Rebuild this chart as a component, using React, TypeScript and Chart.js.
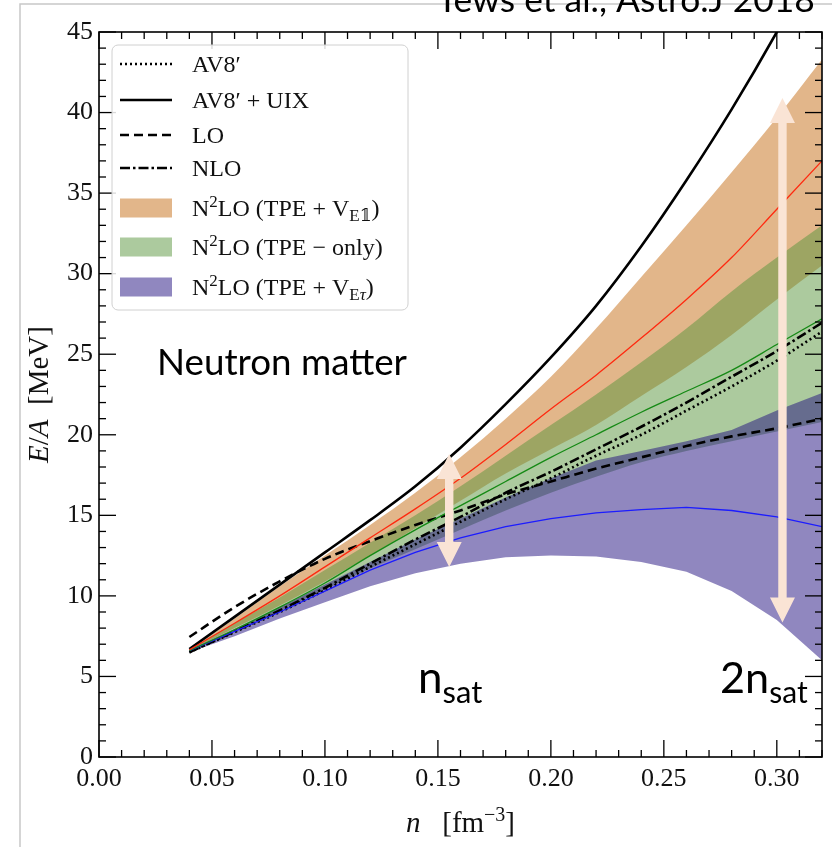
import React, { useEffect, useRef } from 'react';
import { Chart, registerables } from 'chart.js';
Chart.register(...registerables);

// ---- data ----
const nVals = [0.04, 0.06, 0.08, 0.10, 0.12, 0.14, 0.16, 0.18, 0.20, 0.22, 0.24, 0.26, 0.28, 0.30, 0.32];
const av8uix = [6.7, 8.7, 10.7, 12.7, 14.7, 16.8, 19.2, 21.9, 24.8, 28.0, 31.7, 35.8, 40.2, 45.0, 50.2];
const av8 = [6.5, 7.75, 9.0, 10.35, 11.8, 13.2, 14.6, 16.0, 17.3, 18.7, 20.0, 21.5, 23.0, 24.6, 26.4];
const lo = [7.45, 9.3, 10.9, 12.3, 13.4, 14.4, 15.3, 16.3, 17.1, 17.9, 18.6, 19.3, 19.9, 20.4, 21.0];
const nlo = [6.5, 7.8, 9.1, 10.5, 12.0, 13.5, 14.9, 16.4, 17.7, 19.1, 20.5, 22.0, 23.6, 25.2, 26.95];
const e1Center = [6.65, 8.3, 10.0, 11.8, 13.6, 15.4, 17.3, 19.4, 21.6, 23.7, 26.0, 28.4, 31.0, 34.0, 37.0];
const e1Upper = [6.7, 8.6, 10.6, 12.5, 14.4, 16.4, 18.6, 21.0, 23.6, 26.6, 29.8, 33.0, 36.3, 39.7, 43.3];
const e1Lower = [6.6, 8.0, 9.4, 10.9, 12.5, 14.2, 15.9, 17.6, 19.1, 20.6, 22.4, 24.2, 26.2, 28.4, 30.5];
const tpeCenter = [6.6, 7.9, 9.3, 10.8, 12.5, 14.1, 15.6, 17.1, 18.6, 20.0, 21.4, 22.7, 24.0, 25.6, 27.2];
const tpeUpper = [6.7, 8.3, 9.9, 11.6, 13.3, 15.0, 16.8, 18.7, 20.6, 22.5, 24.5, 26.6, 28.9, 31.0, 33.0];
const tpeLower = [6.55, 7.8, 9.1, 10.4, 11.7, 12.9, 14.1, 15.3, 16.4, 17.4, 18.3, 19.0, 19.6, 20.2, 20.8];
const etCenter = [6.6, 7.8, 9.0, 10.3, 11.6, 12.7, 13.6, 14.3, 14.8, 15.15, 15.35, 15.5, 15.3, 14.9, 14.3];
const etUpper = [6.65, 7.95, 9.3, 10.7, 12.1, 13.5, 14.8, 16.1, 17.3, 18.4, 19.0, 19.6, 20.3, 21.5, 22.6];
const etLower = [6.5, 7.5, 8.6, 9.6, 10.6, 11.4, 12.0, 12.4, 12.5, 12.45, 12.1, 11.5, 10.3, 8.5, 6.0];

const xTicks = [0, 0.05, 0.10, 0.15, 0.20, 0.25, 0.30];
const yTicks = [0, 5, 10, 15, 20, 25, 30, 35, 40, 45];
const xMinorStep = 0.01;
const yMinorStep = 1;

// annotation arrows (n, E from, E to)
const arrowN = [0.155, 0.3025];
const arrowTop = [18.8, 40.9];
const arrowBottom = [11.8, 8.35];

const legendLabels = ["AV8′", "AV8′ + UIX", "LO", "NLO", "N²LO (TPE + V_E𝟙)", "N²LO (TPE − only)", "N²LO (TPE + V_Eτ)"];

// ---- styles ----
const ORANGE = 'rgba(197,109,21,0.5)';
const GREEN = 'rgba(89,149,61,0.5)';
const PURPLE = 'rgba(33,15,127,0.5)';
const SERIF = '"Liberation Serif", "DejaVu Serif", serif';
const SANS = 'Lato, "Open Sans", sans-serif';

type Seg = { t: string; s?: 'sup' | 'sub'; it?: boolean };

function richWidth(ctx: CanvasRenderingContext2D, segs: Seg[], size: number, family: string) {
  let w = 0;
  for (const sg of segs) {
    ctx.font = `${sg.it ? 'italic ' : ''}${sg.s ? Math.round(size * 0.7) : size}px ${family}`;
    w += ctx.measureText(sg.t).width;
  }
  return w;
}
function drawRich(ctx: CanvasRenderingContext2D, segs: Seg[], x: number, y: number, size: number, family: string, align: 'left' | 'center') {
  const w = richWidth(ctx, segs, size, family);
  let cx = align === 'center' ? x - w / 2 : x;
  ctx.textAlign = 'left';
  ctx.textBaseline = 'alphabetic';
  for (const sg of segs) {
    ctx.font = `${sg.it ? 'italic ' : ''}${sg.s ? Math.round(size * 0.7) : size}px ${family}`;
    const dy = sg.s === 'sup' ? -size * 0.38 : sg.s === 'sub' ? size * 0.22 : 0;
    ctx.fillText(sg.t, cx, y + dy);
    cx += ctx.measureText(sg.t).width;
  }
}

function legendSegs(label: string): Seg[] {
  if (!label.startsWith('N²')) return [{ t: label }];
  const rest = label.slice(2);
  const segs: Seg[] = [{ t: 'N' }, { t: '2', s: 'sup' }];
  const m = rest.match(/^(.*V)_(E)(.*)\)$/);
  if (m) {
    segs.push({ t: m[1] });
    segs.push({ t: m[2], s: 'sub' });
    segs.push({ t: m[3], s: 'sub', it: m[3] === 'τ' });
    segs.push({ t: ')' });
  } else {
    segs.push({ t: rest });
  }
  return segs;
}

const pts = (arr: number[]) => nVals.map((x, i) => ({ x, y: arr[i] }));

export default function App() {
  const ref = useRef<HTMLCanvasElement>(null);
  useEffect(() => {
    const canvas = ref.current!;
    const lineStyles = [
      { data: av8, dash: [2, 3], w: 2.6 },
      { data: av8uix, dash: [], w: 2.6 },
      { data: lo, dash: [9, 5], w: 2.6 },
      { data: nlo, dash: [10, 3, 2.5, 3], w: 2.6 },
    ];
    const bandColors = [ORANGE, GREEN, PURPLE];

    const band = (data: number[], order: number, fillColor: string | null, smooth: boolean) => ({
      data: pts(data),
      borderColor: 'transparent',
      borderWidth: 0,
      backgroundColor: fillColor || 'transparent',
      fill: fillColor ? '+1' : false,
      pointRadius: 0,
      cubicInterpolationMode: smooth ? 'monotone' : 'default',
      tension: 0,
      order,
    });
    const line = (data: number[], color: string, w: number, dash: number[], smooth: boolean) => ({
      data: pts(data),
      borderColor: color,
      borderWidth: w,
      borderDash: dash,
      fill: false,
      pointRadius: 0,
      cubicInterpolationMode: smooth ? 'monotone' : 'default',
      tension: 0,
      order: 0,
    });

    const decor = {
      id: 'decor',
      afterDatasetsDraw(chart: any) {
        const { ctx, chartArea: a, scales } = chart;
        const x = scales.x, y = scales.y;
        ctx.save();
        // arrows
        ctx.fillStyle = '#fae4d5';
        for (let i = 0; i < arrowN.length; i++) {
          const px = x.getPixelForValue(arrowN[i]);
          const t = y.getPixelForValue(arrowTop[i]);
          const b = y.getPixelForValue(arrowBottom[i]);
          const hw = 12.5, hl = 25, sw = 4.2;
          ctx.beginPath();
          ctx.moveTo(px, t);
          ctx.lineTo(px + hw, t + hl);
          ctx.lineTo(px + sw, t + hl);
          ctx.lineTo(px + sw, b - hl);
          ctx.lineTo(px + hw, b - hl);
          ctx.lineTo(px, b);
          ctx.lineTo(px - hw, b - hl);
          ctx.lineTo(px - sw, b - hl);
          ctx.lineTo(px - sw, t + hl);
          ctx.lineTo(px - hw, t + hl);
          ctx.closePath();
          ctx.fill();
        }
        // ticks
        ctx.strokeStyle = '#000';
        ctx.lineWidth = 1.3;
        const seg = (x1: number, y1: number, x2: number, y2: number) => {
          ctx.beginPath(); ctx.moveTo(x1, y1); ctx.lineTo(x2, y2); ctx.stroke();
        };
        const nx = Math.round((x.max - x.min) / xMinorStep);
        for (let i = 0; i <= nx; i++) {
          const v = x.min + i * xMinorStep;
          const major = xTicks.some((t) => Math.abs(t - v) < 1e-6);
          const L = major ? 17 : 7;
          const px = x.getPixelForValue(v);
          seg(px, a.bottom, px, a.bottom - L);
          seg(px, a.top, px, a.top + L);
        }
        const ny = Math.round((y.max - y.min) / yMinorStep);
        for (let j = 0; j <= ny; j++) {
          const v = y.min + j * yMinorStep;
          const major = yTicks.includes(v);
          const L = major ? 17 : 7;
          const py = y.getPixelForValue(v);
          seg(a.left, py, a.left + L, py);
          seg(a.right, py, a.right - L, py);
        }
        ctx.lineWidth = 1.6;
        ctx.strokeRect(a.left, a.top, a.right - a.left, a.bottom - a.top);
        ctx.restore();
      },
      afterDraw(chart: any) {
        const { ctx, chartArea: a } = chart;
        ctx.save();
        // slide frame lines
        ctx.strokeStyle = '#c8c8c8';
        ctx.lineWidth = 1.5;
        ctx.beginPath(); ctx.moveTo(20, 847); ctx.lineTo(20, 4); ctx.lineTo(832, 4); ctx.stroke();

        // legend
        const lx = 112, ly = 45, lw = 296, lh = 265, r = 6;
        ctx.fillStyle = 'rgba(255,255,255,0.85)';
        ctx.strokeStyle = '#d0d0d0';
        ctx.lineWidth = 1;
        ctx.beginPath();
        ctx.moveTo(lx + r, ly);
        ctx.arcTo(lx + lw, ly, lx + lw, ly + lh, r);
        ctx.arcTo(lx + lw, ly + lh, lx, ly + lh, r);
        ctx.arcTo(lx, ly + lh, lx, ly, r);
        ctx.arcTo(lx, ly, lx + lw, ly, r);
        ctx.closePath();
        ctx.fill(); ctx.stroke();
        const rows = [64, 100, 135, 168, 208, 247, 287];
        const dashes = [[2, 3], [], [9, 5], [10, 3, 2.5, 3]];
        for (let i = 0; i < legendLabels.length; i++) {
          const cy = rows[i];
          if (i < 4) {
            ctx.strokeStyle = '#000';
            ctx.lineWidth = 2.6;
            ctx.setLineDash(dashes[i]);
            ctx.beginPath(); ctx.moveTo(120, cy); ctx.lineTo(172, cy); ctx.stroke();
            ctx.setLineDash([]);
          } else {
            ctx.fillStyle = 'white';
            ctx.fillRect(120, cy - 9.5, 52, 19);
            ctx.fillStyle = bandColors[i - 4];
            ctx.fillRect(120, cy - 9.5, 52, 19);
          }
          ctx.fillStyle = '#111';
          drawRich(ctx, legendSegs(legendLabels[i]), 192, cy + 8, 24, SERIF, 'left');
        }

        // axis titles
        ctx.fillStyle = '#111';
        drawRich(ctx, [{ t: 'n', it: true }, { t: '   [fm' }, { t: '−3', s: 'sup' }, { t: ']' }], (a.left + a.right) / 2, 832, 29, SERIF, 'center');
        ctx.save();
        ctx.translate(48, (a.top + a.bottom) / 2);
        ctx.rotate(-Math.PI / 2);
        drawRich(ctx, [{ t: 'E', it: true }, { t: '/' }, { t: 'A', it: true }, { t: '  [MeV]' }], 0, 0, 29, SERIF, 'center');
        ctx.restore();

        // slide annotations
        ctx.fillStyle = '#000';
        const fit = (segs: Seg[], target: number) => {
          const w = richWidth(ctx, segs, 100, SANS);
          return (100 * target) / w;
        };
        const nm: Seg[] = [{ t: 'Neutron matter' }];
        drawRich(ctx, nm, 157, 375, fit(nm, 250), SANS, 'left');
        const ns: Seg[] = [{ t: 'n' }, { t: 'sat', s: 'sub' }];
        drawRich(ctx, ns, 418, 693, fit(ns, 64), SANS, 'left');
        const ns2: Seg[] = [{ t: '2n' }, { t: 'sat', s: 'sub' }];
        drawRich(ctx, ns2, 720, 693, fit(ns2, 88), SANS, 'left');
        const tt: Seg[] = [{ t: 'Tews et al., Astro.J 2018' }];
        drawRich(ctx, tt, 437, 12, fit(tt, 378), SANS, 'left');
        ctx.restore();
      },
    };

    const chart = new Chart(canvas, {
      type: 'line',
      data: {
        datasets: [
          band(e1Upper, 3, ORANGE, true) as any,
          band(e1Lower, 3, null, true) as any,
          band(tpeUpper, 2, GREEN, true) as any,
          band(tpeLower, 2, null, true) as any,
          band(etUpper, 1, PURPLE, false) as any,
          band(etLower, 1, null, false) as any,
          line(e1Center, '#ff2a10', 1.3, [], true) as any,
          line(tpeCenter, '#158a15', 1.3, [], true) as any,
          line(etCenter, '#1c1cff', 1.3, [], false) as any,
          ...lineStyles.map((l) => line(l.data, '#000', l.w, l.dash, true) as any),
        ],
      },
      options: {
        responsive: false,
        devicePixelRatio: 1,
        animation: false,
        events: [],
        layout: { padding: { left: 0, right: 10, top: 32, bottom: 0 } },
        plugins: { legend: { display: false }, tooltip: { enabled: false } },
        scales: {
          x: {
            type: 'linear',
            min: 0,
            max: 0.32,
            grid: { display: false, drawTicks: false },
            border: { display: false },
            afterBuildTicks: (s: any) => { s.ticks = xTicks.map((v) => ({ value: v })); },
            afterFit: (s: any) => { s.height = 90; },
            ticks: {
              padding: 7,
              color: '#111',
              font: { family: SERIF, size: 26 },
              maxRotation: 0,
              callback: (v: any) => Number(v).toFixed(2),
            },
          },
          y: {
            type: 'linear',
            min: 0,
            max: 45,
            grid: { display: false, drawTicks: false },
            border: { display: false },
            afterBuildTicks: (s: any) => { s.ticks = yTicks.map((v) => ({ value: v })); },
            afterFit: (s: any) => { s.width = 99; },
            ticks: {
              padding: 6,
              color: '#111',
              font: { family: SERIF, size: 26 },
              callback: (v: any) => String(v),
            },
          },
        },
      } as any,
      plugins: [decor],
    });
    return () => chart.destroy();
  }, []);

  return (
    <div style={{ position: 'absolute', left: 0, top: 0, width: 832, height: 847, background: '#fff' }}>
      <canvas ref={ref} width={832} height={847} style={{ display: 'block' }} />
    </div>
  );
}
